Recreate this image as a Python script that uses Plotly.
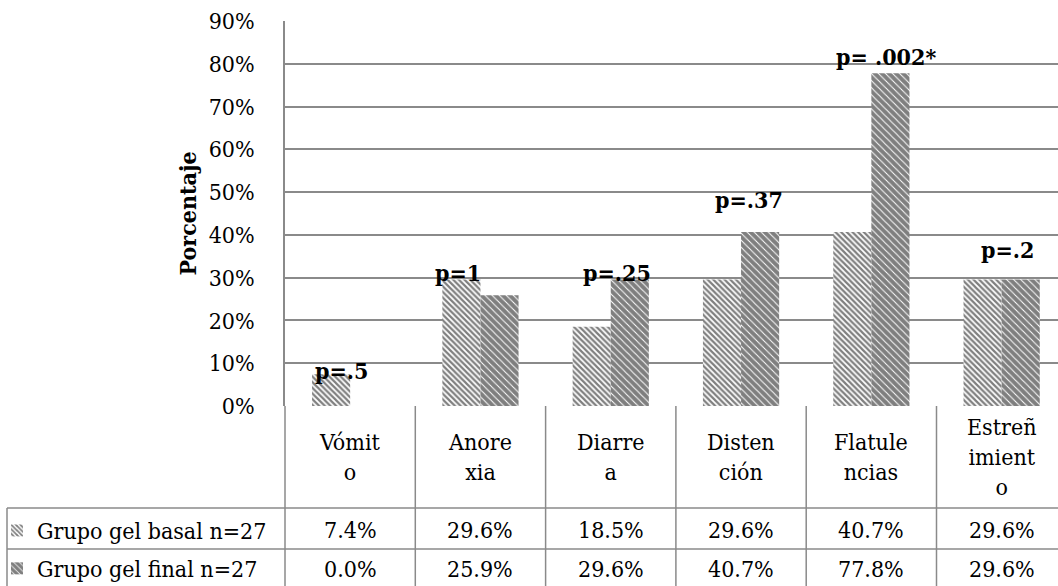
import plotly.graph_objects as go

# Symptom categories (header cells wrap exactly as they appear in the data table)
categorias = ["Vómito", "Anorexia", "Diarrea", "Distención", "Flatulencias", "Estreñimiento"]
etiquetas_tabla = ["Vómit<br>o", "Anore<br>xia", "Diarre<br>a", "Disten<br>ción", "Flatule<br>ncias", "Estreñ<br>imient<br>o"]

# Percent of patients with each symptom
basal = [7.4, 29.6, 18.5, 29.6, 40.7, 29.6]
final = [0.0, 25.9, 29.6, 40.7, 77.8, 29.6]

serie_basal = "Grupo gel basal n=27"
serie_final = "Grupo gel final n=27"

# p-values shown above each pair of bars, with label height (%) and horizontal nudge (px)
p_valores = ["p=.5", "p=1", "p=.25", "p=.37", "p= .002*", "p=.2"]
p_altura = [8.4, 31.1, 31.1, 48.2, 81.6, 36.5]
p_desplaz = [-9, -22, 6, 8, 15, 6]

FONT = "DejaVu Serif Condensed, DejaVu Serif"
FS = 23
GRID = "#8a8a8a"
W, H = 1058, 586
L, T, B = 285, 21, 180          # plot-area margins in px
PW = W - L
PH = H - T - B
CAT_W = 130.3                   # width of one category column in px


def px(x):
    return (x - L) / PW


def py(y):
    return (H - B - y) / PH


fig = go.Figure()
fig.add_trace(go.Bar(
    x=categorias, y=[v / 100 for v in basal], name=serie_basal, legendgroup="a",
    marker=dict(color="white", line=dict(width=0),
                pattern=dict(shape="\\", size=4, solidity=0.55, fgcolor="black", bgcolor="white")),
))
fig.add_trace(go.Bar(
    x=categorias, y=[v / 100 for v in final], name=serie_final, legendgroup="b",
    marker=dict(color="white", line=dict(width=0),
                pattern=dict(shape="\\", size=5, solidity=0.8, fgcolor="black", bgcolor="white")),
))

shapes = []
annotations = []

# Data table under the chart: grid lines
for yy in (508, 549):
    shapes.append(dict(type="line", xref="paper", yref="paper", x0=px(7), x1=px(W + 20),
                       y0=py(yy), y1=py(yy), line=dict(color=GRID, width=1.5)))
shapes.append(dict(type="line", xref="paper", yref="paper", x0=px(7), x1=px(7),
                   y0=py(508), y1=py(600), line=dict(color=GRID, width=1.5)))
shapes.append(dict(type="line", xref="paper", yref="paper", x0=0, x1=0,
                   y0=py(406), y1=py(600), line=dict(color=GRID, width=1.5)))
for i in range(len(categorias) - 1):
    shapes.append(dict(type="line", xref="x", yref="paper", x0=i + 0.5, x1=i + 0.5,
                       y0=py(406), y1=py(600), line=dict(color=GRID, width=1.5)))

# Data table: header cells and values
for i, lab in enumerate(etiquetas_tabla):
    annotations.append(dict(x=categorias[i], xref="x", y=py(457), yref="paper", text=lab,
                            showarrow=False, xanchor="center", yanchor="middle",
                            font=dict(family=FONT, size=FS, color="black")))
    annotations.append(dict(x=categorias[i], xref="x", y=py(530), yref="paper",
                            text=f"{basal[i]:.1f}%", showarrow=False, xanchor="center",
                            yanchor="middle", font=dict(family=FONT, size=FS, color="black")))
    annotations.append(dict(x=categorias[i], xref="x", y=py(569), yref="paper",
                            text=f"{final[i]:.1f}%", showarrow=False, xanchor="center",
                            yanchor="middle", font=dict(family=FONT, size=FS, color="black")))

# p-value labels
for i, p in enumerate(p_valores):
    annotations.append(dict(x=categorias[i], xref="x", y=p_altura[i] / 100, yref="y",
                            text=f"<b>{p}</b>", showarrow=False, xanchor="center",
                            yanchor="middle", xshift=p_desplaz[i],
                            font=dict(family=FONT, size=FS, color="black")))

# Y-axis title
annotations.append(dict(x=px(187), xref="paper", y=0.5, yref="paper", text="<b>Porcentaje</b>",
                        textangle=-90, showarrow=False, xanchor="center", yanchor="middle",
                        font=dict(family=FONT, size=FS, color="black")))

fig.update_layout(
    width=W, height=H,
    margin=dict(l=L, r=0, t=T, b=B, autoexpand=False),
    paper_bgcolor="white", plot_bgcolor="white",
    barmode="group", bargap=0.415, bargroupgap=0,
    font=dict(family=FONT, size=FS, color="black"),
    showlegend=True,
    legend=dict(x=px(-3), y=py(509), xanchor="left", yanchor="top",
                traceorder="grouped", tracegroupgap=5, bgcolor="rgba(0,0,0,0)",
                font=dict(family=FONT, size=FS, color="black"), itemwidth=30),
    shapes=shapes, annotations=annotations,
)
fig.update_xaxes(type="category", categoryorder="array", categoryarray=categorias,
                 range=[-0.5, -0.5 + PW / CAT_W], showticklabels=False, showgrid=False,
                 zeroline=False, showline=False, ticks="")
fig.update_yaxes(range=[0, 0.9], dtick=0.1, tick0=0, tickformat=".0%", showgrid=True,
                 gridcolor=GRID, gridwidth=1.5, zeroline=False, showline=True,
                 linecolor=GRID, linewidth=1.5, ticks="", ticklabelstandoff=24,
                 tickfont=dict(family=FONT, size=FS, color="black"))

fig.write_html("out.html")
